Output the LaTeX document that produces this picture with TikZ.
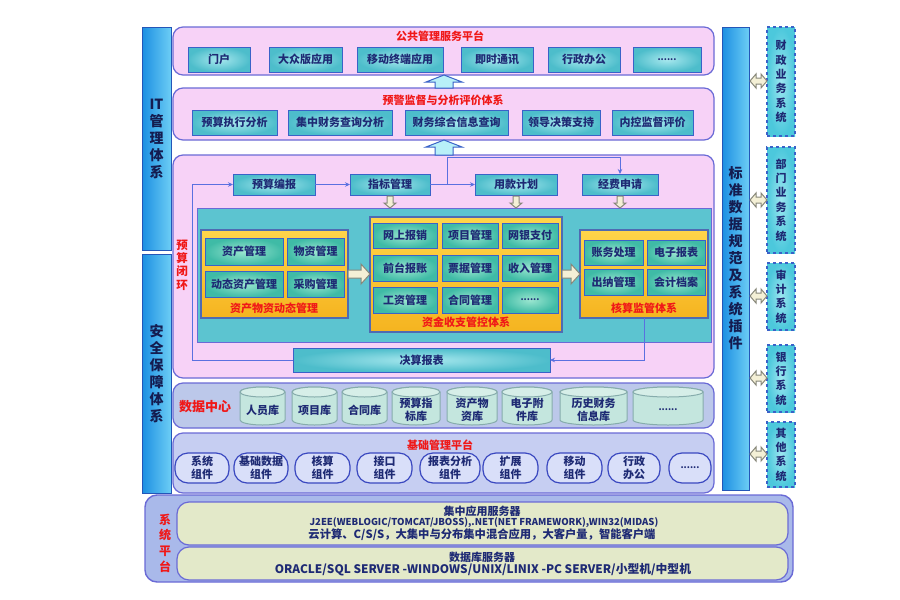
\documentclass[tikz,border=0pt]{standalone}
\usepackage{fontspec}
\setmainfont{Noto Sans CJK SC}
\usetikzlibrary{arrows.meta}
\definecolor{pinkfill}{HTML}{F7D2F7}
\definecolor{pborder}{HTML}{6A6AD6}
\definecolor{itemin}{HTML}{A8E8EE}
\definecolor{itemout}{HTML}{4DBDCB}
\definecolor{iborder}{HTML}{3A62C8}
\definecolor{navy}{HTML}{1E2A74}
\definecolor{titlered}{HTML}{F01818}
\definecolor{tealfill}{HTML}{5CC4D0}
\definecolor{yellowtop}{HTML}{FFD54A}
\definecolor{yellowbot}{HTML}{F5B420}
\definecolor{gin}{HTML}{9BE6D0}
\definecolor{gout}{HTML}{3FBBA6}
\definecolor{barleft}{HTML}{1C8FE2}
\definecolor{barright}{HTML}{6CCDF5}
\definecolor{barborder}{HTML}{2456B8}
\definecolor{dcfill}{HTML}{BCC8EA}
\definecolor{bmfill}{HTML}{C6CEF2}
\definecolor{compfill}{HTML}{D9DFF9}
\definecolor{compborder}{HTML}{3A48C0}
\definecolor{cylfill}{HTML}{C4E6DE}
\definecolor{cyltop}{HTML}{D6EEE8}
\definecolor{cylborder}{HTML}{86ACAC}
\definecolor{spfill}{HTML}{A9B9EA}
\definecolor{spinner}{HTML}{E3E9C9}
\definecolor{sysin}{HTML}{9CE6F0}
\definecolor{sysout}{HTML}{4CC8DC}
\definecolor{arrfill}{HTML}{F4F0D6}
\definecolor{arrdraw}{HTML}{88887A}
\definecolor{bigarrfill}{HTML}{B8F0F8}
\definecolor{lineblue}{HTML}{5A70E0}
\definecolor{textdark}{HTML}{141C50}

\newcommand\mybox[7]{\node[#1,minimum width={(#5-#3)*1pt},minimum height={(#6-#4)*1pt}] (#2) at ({(#3+#5)/2},{(#4+#6)/2}) {#7};}
\newcommand\mycyl[6]{%
  \pgfmathsetmacro\cw{(#4-#2)/2}%
  \filldraw[cylst] (#2,{#3+5}) -- (#2,{#5-5}) arc[start angle=180,end angle=360,x radius=\cw pt,y radius=5pt] -- (#4,{#3+5}) arc[start angle=0,end angle=180,x radius=\cw pt,y radius=5pt] -- cycle;
  \filldraw[cylst,fill=cyltop] ({(#2+#4)/2},{#3+5}) ellipse[x radius=\cw pt,y radius=5pt];
  \node[cyltext] (#1) at ({(#2+#4)/2},{(#3+#5)/2+4}) {#6};}
\newcommand\darr[3]{\filldraw[smallarr] ({#1-3},#2) -- ({#1+3},#2) -- ({#1+3},{#3-5}) -- ({#1+6},{#3-5}) -- (#1,#3) -- ({#1-6},{#3-5}) -- ({#1-3},{#3-5}) -- cycle;}
\newcommand\rarr[3]{\filldraw[smallarr] (#1,{#3-4}) -- ({#2-9},{#3-4}) -- ({#2-9},{#3-10}) -- (#2,#3) -- ({#2-9},{#3+10}) -- ({#2-9},{#3+4}) -- (#1,{#3+4}) -- cycle;}
\newcommand\dblarr[3]{\filldraw[smallarr] (#1,#3) -- ({#1+6},{#3-7}) -- ({#1+6},{#3-3}) -- ({#2-6},{#3-3}) -- ({#2-6},{#3-7}) -- (#2,#3) -- ({#2-6},{#3+7}) -- ({#2-6},{#3+3}) -- ({#1+6},{#3+3}) -- ({#1+6},{#3+7}) -- cycle;}
\newcommand\uarr[3]{\filldraw[bigarr] ({#1-9},#2) -- ({#1-9},{#3+7}) -- ({#1-18},{#3+7}) -- (#1,#3) -- ({#1+18},{#3+7}) -- ({#1+9},{#3+7}) -- ({#1+9},#2) -- cycle;}

\tikzset{
  every node/.style={inner sep=0pt,outer sep=0pt},
  bar/.style={draw=barborder,line width=1pt,left color=barleft,right color=barright},
  vtext/.style={align=center,font=\fontsize{14}{17}\selectfont\bfseries,text=textdark},
  sysbox/.style={draw=iborder,dashed,line width=1.2pt,inner color=sysin,outer color=sysout,align=center,font=\fontsize{11}{14.4}\selectfont\bfseries,text=navy},
  panel/.style={draw=pborder,line width=1.2pt,fill=pinkfill,rounded corners=10pt},
  ptitle/.style={text=titlered,font=\fontsize{11}{13}\selectfont\bfseries},
  item/.style={draw=iborder,line width=1pt,inner color=itemin,outer color=itemout,font=\fontsize{11}{13}\selectfont\bfseries,text=navy},
  gitem/.style={draw=iborder,line width=1pt,inner color=gin,outer color=gout,font=\fontsize{11}{13}\selectfont\bfseries,text=navy},
  tealbox/.style={draw=pborder,line width=1pt,fill=tealfill},
  ypanel/.style={draw=iborder!70!gray,line width=1.2pt,top color=yellowtop,bottom color=yellowbot},
  dcpanel/.style={draw=pborder,line width=1.2pt,fill=dcfill,rounded corners=10pt},
  bmpanel/.style={draw=pborder,line width=1.2pt,fill=bmfill,rounded corners=10pt},
  comp/.style={draw=compborder,line width=1.2pt,fill=compfill,rounded corners=13pt,align=center,font=\fontsize{11}{13}\selectfont\bfseries,text=navy},
  cylst/.style={draw=cylborder,line width=1pt,fill=cylfill},
  cyltext/.style={align=center,font=\fontsize{11}{13}\selectfont\bfseries,text=navy},
  sppanel/.style={draw=pborder,line width=1.4pt,fill=spfill,rounded corners=12pt},
  spin/.style={draw=pborder,line width=1.2pt,fill=spinner,rounded corners=12pt},
  sptext/.style={text=navy,font=\fontsize{11}{13}\selectfont\bfseries},
  smallarr/.style={draw=arrdraw,line width=1pt,fill=arrfill},
  bigarr/.style={draw=iborder,line width=1pt,fill=bigarrfill},
  flow/.style={draw=lineblue,line width=0.9pt,-{Stealth[length=5pt,width=4.5pt]}},
}

\begin{document}
\begin{tikzpicture}[x=1pt,y=-1pt]
\fill[white] (0,0) rectangle (900,600);
\useasboundingbox (0,0) rectangle (900,600);

% side bars
\mybox{bar}{itbar}{142}{27}{171}{250}{}
\node[vtext] (itt) at (itbar) {IT\\管\\理\\体\\系};
\mybox{bar}{aqbar}{142}{254}{171}{493}{}
\node[vtext] (aqt) at (aqbar) {安\\全\\保\\障\\体\\系};
\mybox{bar}{bzbar}{722}{27}{749}{490}{}
\node[vtext] (bzt) at (bzbar) {标\\准\\数\\据\\规\\范\\及\\系\\统\\插\\件};

% external systems
\mybox{sysbox}{cz}{767}{27}{795}{136}{财\\政\\业\\务\\系\\统}
\mybox{sysbox}{bm}{767}{147}{795}{253}{部\\门\\业\\务\\系\\统}
\mybox{sysbox}{sj}{767}{263}{795}{330}{审\\计\\系\\统}
\mybox{sysbox}{yh}{767}{345}{795}{412}{银\\行\\系\\统}
\mybox{sysbox}{qt}{767}{422}{795}{487}{其\\他\\系\\统}
\dblarr{750}{767}{81}
\dblarr{750}{767}{200}
\dblarr{750}{767}{296}
\dblarr{750}{767}{378}
\dblarr{750}{767}{454}

% panel 1
\mybox{panel}{p1}{173}{27}{714}{75}{}
\node[ptitle] (p1t) at (440,36) {公共管理服务平台};
\mybox{item}{a1}{188}{47}{250}{72}{门户}
\mybox{item}{a2}{269}{47}{342}{72}{大众版应用}
\mybox{item}{a3}{357}{47}{443}{72}{移动终端应用}
\mybox{item}{a4}{461}{47}{533}{72}{即时通讯}
\mybox{item}{a5}{548}{47}{620}{72}{行政办公}
\mybox{item}{a6}{633}{47}{701}{72}{\fontsize{9}{9}\selectfont ......}

% panel 2
\mybox{panel}{p2}{173}{88}{714}{140}{}
\node[ptitle] (p2t) at (443,100) {预警监督与分析评价体系};
\mybox{item}{b1}{192}{110}{277}{135}{预算执行分析}
\mybox{item}{b2}{288}{110}{392}{135}{集中财务查询分析}
\mybox{item}{b3}{405}{110}{508}{135}{财务综合信息查询}
\mybox{item}{b4}{522}{110}{600}{135}{领导决策支持}
\mybox{item}{b5}{612}{110}{693}{135}{内控监督评价}

% panel 3
\mybox{panel}{p3}{173}{155}{714}{378}{}
\mybox{item}{yb}{233}{174}{315}{195}{预算编报}
\mybox{item}{zb}{350}{174}{430}{195}{指标管理}
\mybox{item}{yk}{475}{174}{557}{195}{用款计划}
\mybox{item}{jf}{582}{174}{658}{195}{经费申请}
\mybox{tealbox}{tq}{197}{208}{711}{342}{}
\node[ptitle,align=center,font=\fontsize{11.5}{13.3}\selectfont\bfseries] (ysbh) at (182,265) {预\\算\\闭\\环};

% sub panel 1
\mybox{ypanel}{s1}{201}{230}{348}{318}{}
\mybox{gitem}{c1}{205}{238}{283}{265}{资产管理}
\mybox{gitem}{c2}{287}{238}{344}{265}{物资管理}
\mybox{gitem}{c3}{205}{271}{283}{297}{动态资产管理}
\mybox{gitem}{c4}{287}{271}{344}{297}{采购管理}
\node[ptitle] (s1t) at (274,308) {资产物资动态管理};

% sub panel 2
\mybox{ypanel}{s2}{370}{217}{562}{332}{}
\mybox{gitem}{d1}{373}{223}{437}{248}{网上报销}
\mybox{gitem}{d2}{442}{223}{498}{248}{项目管理}
\mybox{gitem}{d3}{502}{223}{558}{248}{网银支付}
\mybox{gitem}{d4}{373}{255}{437}{281}{前台报账}
\mybox{gitem}{d5}{442}{255}{498}{281}{票据管理}
\mybox{gitem}{d6}{502}{255}{558}{281}{收入管理}
\mybox{gitem}{d7}{373}{287}{437}{313}{工资管理}
\mybox{gitem}{d8}{442}{287}{498}{313}{合同管理}
\mybox{gitem}{d9}{502}{287}{558}{313}{\fontsize{9}{9}\selectfont ......}
\node[ptitle] (s2t) at (466,322) {资金收支管控体系};

% sub panel 3
\mybox{ypanel}{hs}{580}{230}{708}{318}{}
\mybox{gitem}{e1}{584}{240}{643}{265}{账务处理}
\mybox{gitem}{e2}{647}{240}{705}{265}{电子报表}
\mybox{gitem}{e3}{584}{269}{643}{295}{出纳管理}
\mybox{gitem}{e4}{647}{269}{705}{295}{会计档案}
\node[ptitle] (s3t) at (644,308) {核算监管体系};

\mybox{item}{js}{293}{348}{550}{372}{决算报表}

% block arrows
\uarr{444}{88}{75}
\uarr{444}{155}{140}
\darr{390}{196}{208}
\darr{516}{196}{208}
\darr{620}{196}{208}
\rarr{348}{370}{274}
\rarr{562}{580}{274}

% flow connectors
\draw[flow] (yb.east) -- (zb.west);
\draw[flow] (zb.east) -- (yk.west);
\coordinate (j1) at (447,157);
\draw[flow] (j1 |- zb.east) -- (j1) -| (jf.north);
\coordinate (lp) at (192,360);
\draw[flow] (js.west) -- (lp |- js.west) |- (yb.west);
\draw[flow] (hs.south) |- (js.east);

% data center
\mybox{dcpanel}{dc}{173}{383}{714}{428}{}
\node[ptitle,font=\fontsize{13}{15}\selectfont\bfseries] (dct) at (205,407) {数据中心};
\mycyl{f1}{240}{387}{285}{425}{人员库}
\mycyl{f2}{292}{387}{337}{425}{项目库}
\mycyl{f3}{342}{387}{387}{425}{合同库}
\mycyl{f4}{392}{387}{440}{425}{预算指\\标库}
\mycyl{f5}{447}{387}{497}{425}{资产物\\资库}
\mycyl{f6}{502}{387}{552}{425}{电子附\\件库}
\mycyl{f7}{560}{387}{627}{425}{历史财务\\信息库}
\mycyl{f8}{633}{387}{703}{425}{\fontsize{9}{9}\selectfont ......}

% base platform
\mybox{bmpanel}{bp}{173}{433}{714}{493}{}
\node[ptitle] (bpt) at (440,445) {基础管理平台};
\mybox{comp}{g1}{175}{453}{229}{483}{系统\\组件}
\mybox{comp}{g2}{234}{453}{288}{483}{基础数据\\组件}
\mybox{comp}{g3}{295}{453}{350}{483}{核算\\组件}
\mybox{comp}{g4}{357}{453}{412}{483}{接口\\组件}
\mybox{comp}{g5}{420}{453}{480}{483}{报表分析\\组件}
\mybox{comp}{g6}{483}{453}{538}{483}{扩展\\组件}
\mybox{comp}{g7}{547}{453}{602}{483}{移动\\组件}
\mybox{comp}{g8}{608}{453}{660}{483}{行政\\办公}
\mybox{comp}{g9}{669}{453}{711}{483}{\fontsize{9}{9}\selectfont ......}

% system platform
\mybox{sppanel}{sp}{145}{495}{793}{582}{}
\node[ptitle,align=center,font=\fontsize{12}{15.7}\selectfont\bfseries] (spt) at (165,543) {系\\统\\平\\台};
\mybox{spin}{sp1}{177}{502}{788}{545}{}
\mybox{spin}{sp2}{177}{547}{788}{580}{}
\node[sptext] (t1) at (482,511) {集中应用服务器};
\node[sptext,font=\fontsize{9.5}{11}\selectfont\bfseries] (t2) at (484,523) {J2EE(WEBLOGIC/TOMCAT/JBOSS),.NET(NET FRAMEWORK),WIN32(MIDAS)};
\node[sptext,font=\fontsize{11.3}{13}\selectfont\bfseries] (t3) at (482,535) {云计算、C/S/S，大集中与分布集中混合应用，大客户量，智能客户端};
\node[sptext] (t4) at (482,557) {数据库服务器};
\node[sptext,font=\fontsize{11.8}{13}\selectfont\bfseries] (t5) at (483,570) {ORACLE/SQL SERVER -WINDOWS/UNIX/LINIX -PC SERVER/小型机/中型机};
\end{tikzpicture}
\end{document}
